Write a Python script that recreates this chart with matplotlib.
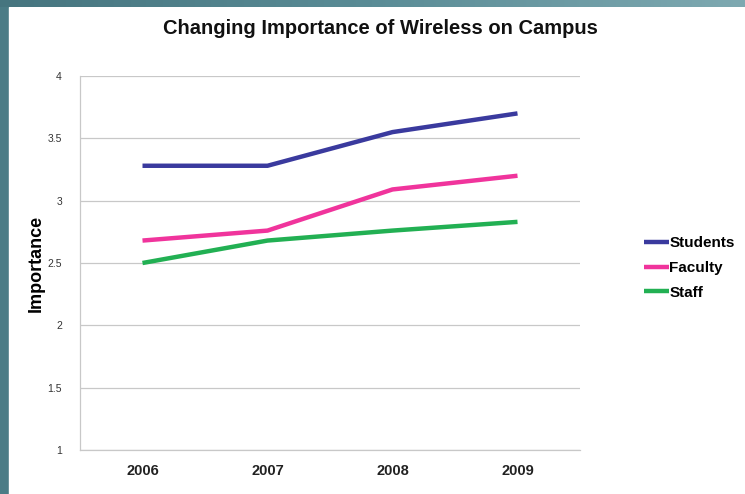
import matplotlib.pyplot as plt
import numpy as np
from matplotlib.patches import Rectangle
from matplotlib.colors import LinearSegmentedColormap

years = ['2006', '2007', '2008', '2009']
students = [3.28, 3.28, 3.55, 3.70]
faculty = [2.68, 2.76, 3.09, 3.20]
staff = [2.50, 2.68, 2.76, 2.83]
yticks = [1, 1.5, 2, 2.5, 3, 3.5, 4]

plt.rcParams['font.family'] = ['Liberation Sans', 'DejaVu Sans']

fig = plt.figure(figsize=(7.45, 4.94), dpi=100)
fig.set_facecolor('#4b7c86')

# top band, slightly lighter towards the right
band = fig.add_axes([0, 1 - 7 / 494, 1, 7 / 494])
band.imshow(np.linspace(0, 1, 256).reshape(1, -1), aspect='auto',
            cmap=LinearSegmentedColormap.from_list(
                'band', ['#46757f', '#5a8c96', '#7ea9b1']))
band.axis('off')

fig.patches.append(Rectangle((9 / 745, 0), 1, 1 - 7 / 494,
                             transform=fig.transFigure, color='white', zorder=-1))

ax = fig.add_axes([80 / 745, 44 / 494, 500 / 745, 374 / 494])
ax.set_facecolor('white')
x = np.arange(len(years))
ax.plot(x, students, color='#3a3a9e', lw=3.2, label='Students', solid_capstyle='butt')
ax.plot(x, faculty, color='#f0349c', lw=3.2, label='Faculty', solid_capstyle='butt')
ax.plot(x, staff, color='#22b053', lw=3.2, label='Staff', solid_capstyle='butt')

ax.set_xlim(-0.5, len(years) - 0.5)
ax.set_ylim(1, 4)
ax.set_yticks(yticks)
ax.set_yticklabels([f'{v:g}' for v in yticks], fontsize=7.5, color='#333333')
ax.set_xticks(x)
ax.set_xticklabels(years, fontsize=10.5, fontweight='bold', color='#222222')
ax.tick_params(length=0)
ax.tick_params(axis='y', pad=13)
ax.tick_params(axis='x', pad=10)
ax.grid(axis='y', color='#c8c8c8', lw=0.9)
ax.set_axisbelow(True)
for s in ['top', 'right']:
    ax.spines[s].set_visible(False)
for s in ['left', 'bottom']:
    ax.spines[s].set_color('#c8c8c8')
    ax.spines[s].set_linewidth(0.9)

ax.set_ylabel('Importance', fontsize=13, fontweight='bold')
ax.yaxis.set_label_coords(-(80 - 45) / 500, 0.5)

fig.text(380 / 745, 1 - 29 / 494, 'Changing Importance of Wireless on Campus',
         ha='center', va='center', fontsize=14.5, fontweight='bold', color='#111111')

leg = ax.legend(loc='center left', bbox_to_anchor=(644 / 745, 1 - 268 / 494),
                bbox_transform=fig.transFigure, frameon=False,
                borderpad=0, borderaxespad=0,
                handlelength=1.65, handletextpad=0.0, labelspacing=0.7,
                prop={'size': 11, 'weight': 'bold'})

fig.savefig('out.png', dpi=100, facecolor=fig.get_facecolor())
